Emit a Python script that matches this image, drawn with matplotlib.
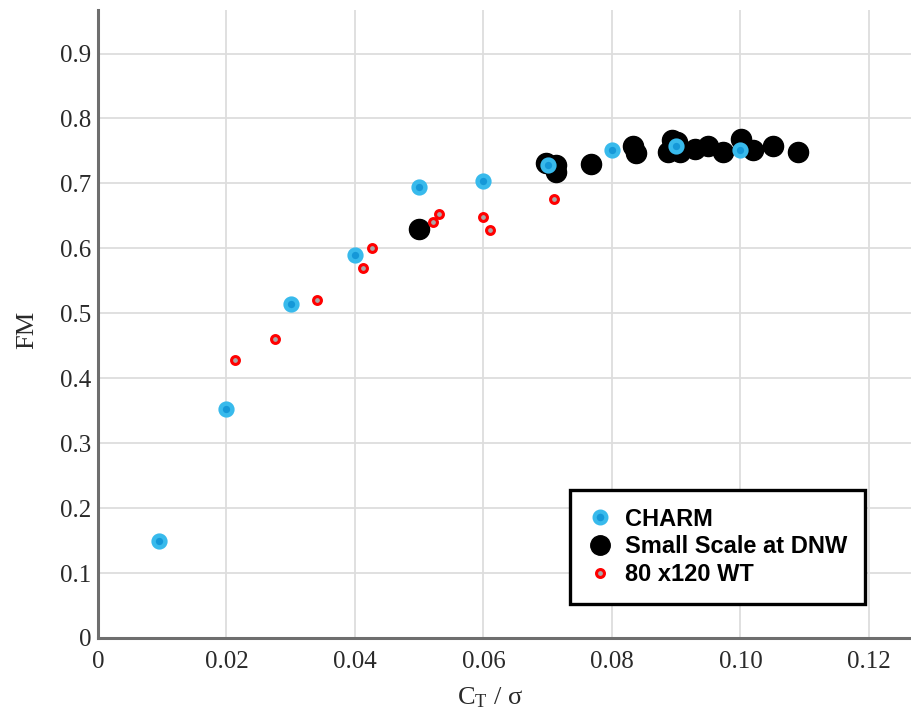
import matplotlib
matplotlib.use("Agg")
import matplotlib.pyplot as plt
from matplotlib.lines import Line2D

plt.rcParams["mathtext.fontset"] = "custom"
plt.rcParams["mathtext.rm"] = "Liberation Serif"
plt.rcParams["mathtext.it"] = "Liberation Serif:italic"

# CHARM prediction
charm_ct = [0.0095, 0.020, 0.030, 0.040, 0.050, 0.060, 0.070, 0.080, 0.090, 0.100]
charm_fm = [0.150, 0.353, 0.515, 0.590, 0.695, 0.703, 0.728, 0.752, 0.757, 0.752]

# small scale rotor at DNW
dnw_ct = [0.050, 0.0697, 0.0713, 0.0713, 0.0767, 0.0833, 0.0837, 0.0887, 0.0893,
          0.0901, 0.0906, 0.0929, 0.0949, 0.0973, 0.1001, 0.1019, 0.1051, 0.1090]
dnw_fm = [0.630, 0.732, 0.729, 0.718, 0.730, 0.757, 0.747, 0.749, 0.767,
          0.764, 0.749, 0.753, 0.757, 0.749, 0.769, 0.752, 0.757, 0.749]

# 80 x 120 wind tunnel
wt_ct = [0.0213, 0.0276, 0.0341, 0.0413, 0.0426, 0.0521, 0.0531, 0.0600, 0.0610, 0.0710]
wt_fm = [0.428, 0.461, 0.521, 0.570, 0.600, 0.640, 0.653, 0.648, 0.628, 0.676]

xticks = [0, 0.02, 0.04, 0.06, 0.08, 0.10, 0.12]
xtick_labels = ["0", "0.02", "0.04", "0.06", "0.08", "0.10", "0.12"]
yticks = [0, 0.1, 0.2, 0.3, 0.4, 0.5, 0.6, 0.7, 0.8, 0.9]
ytick_labels = ["0", "0.1", "0.2", "0.3", "0.4", "0.5", "0.6", "0.7", "0.8", "0.9"]

blue_out = "#38BAEC"
blue_in = "#1598D8"

fig = plt.figure(figsize=(9.12, 7.19), dpi=100)
ax = fig.add_axes([98 / 912, 81 / 719, 814 / 912, 628 / 719])

ax.scatter(dnw_ct, dnw_fm, s=210, color="black", zorder=3)
ax.scatter(wt_ct, wt_fm, s=32, facecolor="#a8a8a8", edgecolor="#ff0000", linewidth=2.2, zorder=4)
ax.scatter(charm_ct, charm_fm, s=72, facecolor=blue_in, edgecolor=blue_out, linewidth=3.2, zorder=5)

ax.set_xlim(0, 0.1267)
ax.set_ylim(0, 0.967)
ax.set_xticks(xticks)
ax.set_xticklabels(xtick_labels)
ax.set_yticks(yticks)
ax.set_yticklabels(ytick_labels)
ax.grid(True, color="#dddddd", linewidth=1.3)
ax.set_axisbelow(True)
ax.tick_params(length=0, labelsize=18, labelcolor="#2a2a2a")
ax.tick_params(axis="x", pad=9)
ax.tick_params(axis="y", pad=5)
for lab in ax.get_xticklabels() + ax.get_yticklabels():
    lab.set_family("Liberation Serif")

for side in ["top", "right"]:
    ax.spines[side].set_visible(False)
for side in ["left", "bottom"]:
    ax.spines[side].set_color("#6e6e6e")
    ax.spines[side].set_linewidth(2.2)

ax.set_xlabel(r"C$_\mathrm{T}$ / σ", family="Liberation Serif", fontsize=19, color="#2a2a2a")
ax.xaxis.set_label_coords((490 - 98) / 814, -0.075)
ax.set_ylabel("FM", family="Liberation Serif", fontsize=19, color="#2a2a2a")
ax.yaxis.set_label_coords(-0.074, 0.49)

handles = [
    Line2D([], [], linestyle="none", marker="o", markersize=8.5, markerfacecolor=blue_in,
           markeredgecolor=blue_out, markeredgewidth=3.0),
    Line2D([], [], linestyle="none", marker="o", markersize=14, color="black"),
    Line2D([], [], linestyle="none", marker="o", markersize=5.7, markerfacecolor="#a8a8a8",
           markeredgecolor="#ff0000", markeredgewidth=2.2),
]
labels = ["CHARM", "Small Scale at DNW", "80 x120 WT"]
leg = ax.legend(handles, labels, loc="upper left", bbox_to_anchor=((570 - 98) / 814, (638 - 490) / 628),
                borderaxespad=0, frameon=True, fancybox=False, borderpad=0.75,
                handlelength=1.0, handletextpad=0.6, labelspacing=0.2,
                prop={"family": "Liberation Sans", "weight": "bold", "size": 17})
leg.get_frame().set_edgecolor("black")
leg.get_frame().set_linewidth(2.4)
leg.get_frame().set_alpha(1)
leg.set_zorder(10)

fig.savefig("out.png", dpi=100)
